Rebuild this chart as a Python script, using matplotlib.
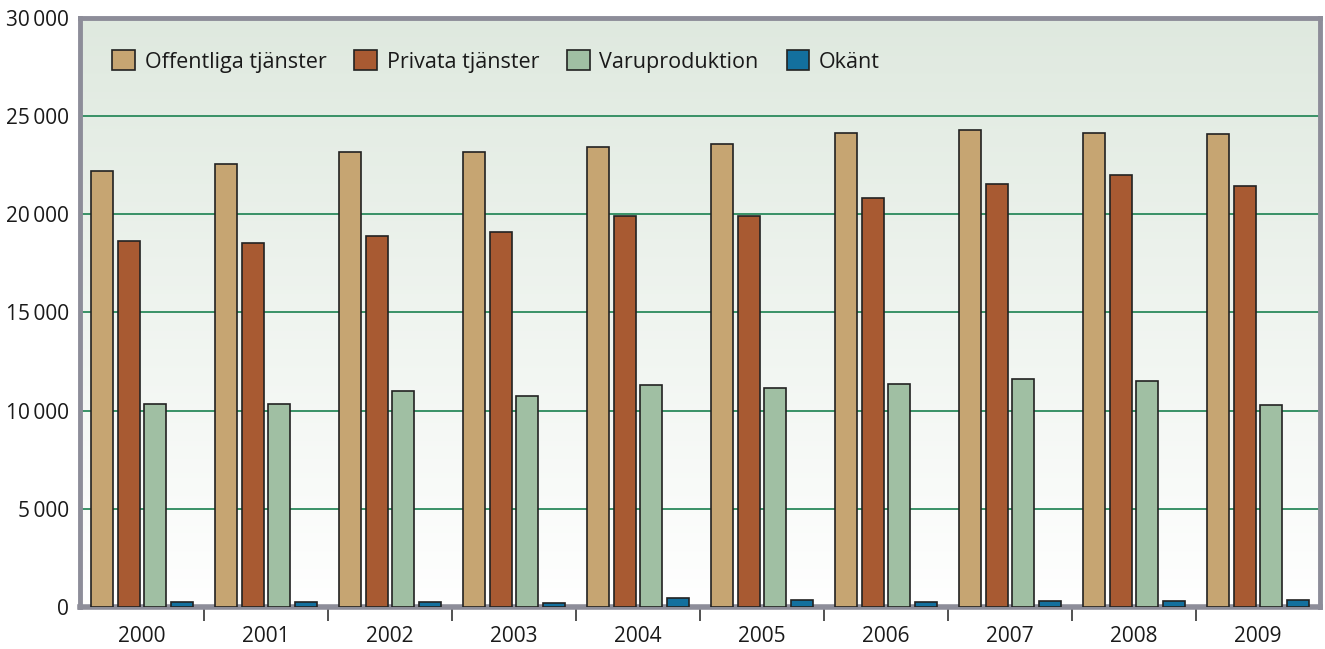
import numpy as np
import matplotlib
matplotlib.use("Agg")
import matplotlib.pyplot as plt
from matplotlib.colors import LinearSegmentedColormap

plt.rcParams['font.family'] = ['Open Sans', 'DejaVu Sans']

# Data
years = ["2000", "2001", "2002", "2003", "2004", "2005", "2006", "2007", "2008", "2009"]
offentliga = [22200, 22550, 23150, 23200, 23450, 23600, 24150, 24300, 24150, 24100]
privata = [18650, 18550, 18900, 19100, 19900, 19900, 20850, 21550, 22000, 21450]
varuproduktion = [10350, 10350, 11000, 10750, 11300, 11150, 11350, 11600, 11500, 10300]
okant = [280, 260, 270, 220, 470, 350, 280, 330, 330, 370]
series_names = ["Offentliga tjänster", "Privata tjänster", "Varuproduktion", "Okänt"]
ytick_values = [0, 5000, 10000, 15000, 20000, 25000, 30000]
ytick_labels = ["0", "5\u2009000", "10\u2009000", "15\u2009000", "20\u2009000", "25\u2009000", "30\u2009000"]

colors = ["#c6a572", "#a85a32", "#a0bfa3", "#13709e"]
frame = "#8d8d99"

fig = plt.figure(figsize=(13.25, 6.49), dpi=100)
ax = fig.add_axes([80/1325, 1-607/649, 1240/1325, 589/649])

# gradient background
grad = LinearSegmentedColormap.from_list("bg", ["#ffffff", "#dfe9df"])
ax.imshow(np.linspace(0, 1, 256).reshape(-1, 1), cmap=grad, origin="lower",
          extent=[-0.5, 9.5, 0, 30000], aspect="auto", zorder=0)

x = np.arange(len(years))
step = 0.214
width = 0.177
all_series = [offentliga, privata, varuproduktion, okant]
for i, vals in enumerate(all_series):
    ax.bar(x + (i - 1.5) * step, vals, width=width, color=colors[i],
           edgecolor="#222222", linewidth=1.2, label=series_names[i], zorder=3)

ax.set_xlim(-0.5, 9.5)
ax.set_ylim(0, 30000)

for v in ytick_values[1:-1]:
    ax.axhline(v, color="#2a8a5c", linewidth=1.3, zorder=1)

ax.set_yticks(ytick_values)
ax.set_yticklabels(ytick_labels, fontsize=15, color="#1a1a1a")
ax.tick_params(axis="y", length=0, pad=8)
ax.set_xticks(x)
ax.set_xticklabels(years, fontsize=15, color="#1a1a1a")
ax.tick_params(axis="x", which="major", length=0, pad=14)
ax.set_xticks(np.arange(0.5, 9.5, 1), minor=True)
ax.tick_params(axis="x", which="minor", length=10, width=1.2, color="#333333", direction="out")

for side in ["top", "left", "right"]:
    ax.spines[side].set_color(frame)
    ax.spines[side].set_linewidth(3.5)
ax.spines["bottom"].set_color(frame)
ax.spines["bottom"].set_linewidth(4)

leg = ax.legend(loc="upper left", bbox_to_anchor=(0.026, 0.945), ncol=4, frameon=False,
                fontsize=15.5, handlelength=1.05, handleheight=1.05, handletextpad=0.45,
                columnspacing=1.3, borderaxespad=0, borderpad=0)
for t in leg.get_texts():
    t.set_color("#1a1a1a")

fig.savefig("out.png", dpi=100)
